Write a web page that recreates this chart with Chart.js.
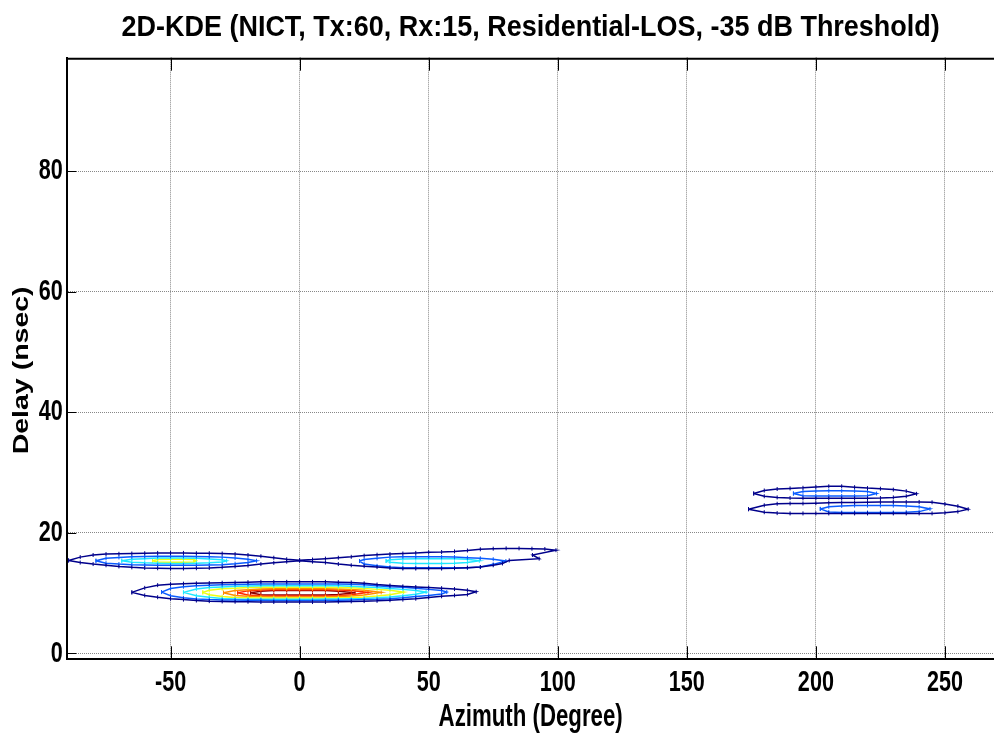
<!DOCTYPE html>
<html>
<head>
<meta charset="utf-8">
<title>2D-KDE contour</title>
<script src="https://cdn.jsdelivr.net/npm/chart.js@4.4.1/dist/chart.umd.min.js"></script>
<style>
  html, body { margin: 0; padding: 0; background: #fff; }
</style>
</head>
<body>
<canvas id="kde" width="994" height="736"></canvas>
<script>
// axis ticks
const xTicks = [-50, 0, 50, 100, 150, 200, 250];
const yTicks = [0, 20, 40, 60, 80];

// contour lines, [azimuth deg, delay ns]
// lower cluster around 10 ns
const lowNavy = [[-65,10.1],[-60,10.85],[-55,11.3],[-50,11.45],[-45,11.55],[-40,11.6],[-35,11.65],[-30,11.7],[-25,11.75],[-20,11.8],[-15,11.85],[-10,11.85],[-5,11.85],[0,11.85],[5,11.85],[10,11.85],[15,11.8],[20,11.75],[25,11.6],[30,11.4],[35,11.25],[40,11.1],[45,11.0],[50,10.9],[55,10.8],[60,10.65],[65,10.45],[68.4,10.2],
  [65,9.75],[60,9.6],[55,9.45],[50,9.25],[45,9.05],[40,8.9],[35,8.8],[30,8.7],[25,8.65],[20,8.6],[15,8.55],[10,8.5],[5,8.5],[0,8.5],[-5,8.5],[-10,8.5],[-15,8.5],[-20,8.55],[-25,8.55],[-30,8.6],[-35,8.65],[-40,8.75],[-45,8.9],[-50,9.05],[-55,9.3],[-60,9.6],[-65,10.1]];
const lowBlue = [[-53.5,10.15],[-50,10.75],[-45,11.05],[-40,11.2],[-35,11.3],[-30,11.35],[-25,11.4],[-20,11.45],[-15,11.5],[-10,11.5],[-5,11.5],[0,11.5],[5,11.5],[10,11.5],[15,11.5],[20,11.45],[25,11.35],[30,11.2],[35,11.05],[40,10.95],[45,10.8],[50,10.6],[55,10.4],[57,10.15],
  [55,9.85],[50,9.6],[45,9.4],[40,9.2],[35,9.05],[30,8.95],[25,8.9],[20,8.85],[15,8.8],[10,8.8],[5,8.75],[0,8.75],[-5,8.75],[-10,8.75],[-15,8.8],[-20,8.8],[-25,8.85],[-30,8.85],[-35,8.9],[-40,9.0],[-45,9.2],[-50,9.55],[-53.5,10.15]];
const lowCyan = [[-45,10.1],[-40,10.65],[-35,10.9],[-30,11.0],[-25,11.1],[-20,11.15],[-15,11.2],[-10,11.2],[-5,11.2],[0,11.2],[5,11.2],[10,11.2],[15,11.2],[20,11.1],[25,11.0],[30,10.9],[35,10.75],[40,10.6],[45,10.4],[49,10.15],
  [45,9.8],[40,9.55],[35,9.35],[30,9.2],[25,9.1],[20,9.05],[15,9.0],[10,9.0],[5,8.95],[0,8.95],[-5,8.95],[-10,8.95],[-15,8.95],[-20,8.95],[-25,9.0],[-30,9.1],[-35,9.3],[-40,9.55],[-45,10.1]];
const lowYellow = [[-37.5,10.1],[-35,10.45],[-30,10.7],[-25,10.8],[-20,10.9],[-15,10.95],[-10,10.95],[-5,10.95],[0,10.95],[5,10.95],[10,10.95],[15,10.9],[20,10.85],[25,10.75],[30,10.6],[35,10.45],[40.3,10.15],
  [35,9.7],[30,9.5],[25,9.35],[20,9.25],[15,9.2],[10,9.15],[5,9.15],[0,9.15],[-5,9.15],[-10,9.15],[-15,9.15],[-20,9.2],[-25,9.25],[-30,9.4],[-35,9.7],[-37.5,10.1]];
const lowOrange = [[-29.5,10.05],[-25,10.4],[-20,10.55],[-15,10.65],[-10,10.7],[-5,10.7],[0,10.7],[5,10.7],[10,10.7],[15,10.65],[20,10.6],[25,10.45],[31.6,10.1],
  [25,9.65],[20,9.5],[15,9.4],[10,9.35],[5,9.35],[0,9.35],[-5,9.35],[-10,9.35],[-15,9.4],[-20,9.45],[-25,9.6],[-29.5,10.05]];
const lowRed = [[-24,10.05],[-20,10.35],[-15,10.5],[-10,10.55],[-5,10.55],[0,10.55],[5,10.55],[10,10.55],[15,10.5],[20,10.4],[26.5,10.1],
  [20,9.7],[15,9.55],[10,9.5],[5,9.5],[0,9.5],[-5,9.5],[-10,9.5],[-15,9.55],[-20,9.65],[-24,10.05]];
const lowDark = [[-19,10.05],[-15,10.3],[-10,10.4],[-5,10.4],[0,10.4],[5,10.4],[10,10.4],[15,10.3],[21.5,10.05],
  [15,9.75],[10,9.65],[5,9.65],[0,9.65],[-5,9.65],[-10,9.65],[-15,9.7],[-19,10.05]];

// upper cluster around 15 ns (outer line joins both lobes)
const upNavy = [[-89.5,15.4],[-85,15.95],[-80,16.3],[-75,16.45],[-70,16.5],[-65,16.55],[-60,16.6],[-55,16.65],[-50,16.65],[-45,16.65],[-40,16.6],[-35,16.6],[-30,16.55],[-25,16.45],[-20,16.3],[-15,16.1],[-10,15.85],[-5,15.6],[0,15.45],[5,15.55],[10,15.7],[15,15.85],[20,16.0],[25,16.2],[30,16.35],[35,16.45],[40,16.55],[45,16.65],[50,16.75],[55,16.8],[60,16.9],[65,17.05],[70,17.25],[75,17.35],[80,17.4],[85,17.4],[90,17.35],[95,17.3],[99.3,17.1],
  [90.2,16.3],[92.8,15.7],[81.2,15.4],[78.6,14.9],[75,14.6],[70,14.3],[65,14.2],[60,14.1],[55,14.05],[50,14.05],[45,14.05],[40,14.05],[35,14.15],[30,14.3],[25,14.45],[20,14.6],[15,14.8],[10,15.05],[5,15.2],[0,15.35],[-5,15.2],[-10,15.0],[-15,14.8],[-20,14.55],[-25,14.4],[-30,14.25],[-35,14.15],[-40,14.1],[-45,14.05],[-50,14.05],[-55,14.1],[-60,14.15],[-65,14.25],[-70,14.4],[-75,14.6],[-80,14.8],[-85,15.05],[-89.5,15.4]];
const upLeftBlue = [[-78.9,15.35],[-75,15.75],[-70,15.9],[-65,16.0],[-60,16.05],[-55,16.1],[-50,16.1],[-45,16.1],[-40,16.05],[-35,16.0],[-30,15.95],[-25,15.8],[-20,15.6],[-16.7,15.35],
  [-20,15.05],[-25,14.85],[-30,14.7],[-35,14.65],[-40,14.6],[-45,14.6],[-50,14.6],[-55,14.6],[-60,14.65],[-65,14.7],[-70,14.8],[-75,14.95],[-78.9,15.35]];
const upLeftCyan = [[-68.9,15.35],[-65,15.6],[-60,15.7],[-55,15.8],[-50,15.8],[-45,15.8],[-40,15.75],[-35,15.65],[-30,15.5],[-28.3,15.35],
  [-30,15.15],[-35,15.0],[-40,14.95],[-45,14.9],[-50,14.9],[-55,14.95],[-60,15.0],[-65,15.1],[-68.9,15.35]];
const upLeftYellow = [[-57,15.35],[-55,15.55],[-50,15.6],[-45,15.6],[-41,15.55],[-40,15.35],[-41,15.15],[-45,15.1],[-50,15.1],[-55,15.15],[-57,15.35]];
const upRightBlue = [[23.2,15.3],[25,15.55],[30,15.75],[35,15.95],[40,16.0],[45,16.0],[50,16.0],[55,16.0],[60,15.95],[65,15.85],[70,15.75],[75,15.6],[79.9,15.3],
  [75,14.75],[70,14.3],[65,14.2],[60,14.2],[55,14.2],[50,14.2],[45,14.2],[40,14.2],[35,14.3],[30,14.5],[25,14.8],[23.2,15.3]];
const upRightCyan = [[33.5,15.3],[35,15.5],[40,15.65],[45,15.7],[50,15.7],[55,15.7],[60,15.7],[65,15.6],[69.6,15.35],
  [65,15.05],[60,14.95],[55,14.9],[50,14.9],[45,14.9],[40,14.95],[35,15.1],[33.5,15.3]];

// two small clusters around 200 deg
const rUpNavy = [[175.9,26.5],[180,27.0],[185,27.25],[190,27.35],[195,27.45],[200,27.6],[205,27.7],[210,27.7],[215,27.55],[220,27.4],[225,27.3],[230,27.15],[235,26.9],[239,26.45],
  [235,26.05],[230,25.85],[225,25.75],[220,25.7],[215,25.7],[210,25.7],[205,25.7],[200,25.7],[195,25.7],[190,25.75],[185,25.85],[180,26.05],[175.9,26.5]];
const rUpBlue = [[191.3,26.5],[195,26.85],[200,26.9],[205,26.95],[210,26.95],[215,26.9],[220,26.85],[223.5,26.5],
  [220,26.15],[215,26.1],[210,26.1],[205,26.1],[200,26.1],[195,26.15],[191.3,26.5]];
const rLowNavy = [[173.9,23.9],[180,24.55],[185,24.8],[190,24.85],[195,24.85],[200,24.9],[205,24.95],[210,25.0],[215,25.0],[220,25.05],[225,25.1],[230,25.1],[235,25.1],[240,25.1],[245,25.05],[250,24.75],[255,24.4],[259,23.9],
  [255,23.5],[250,23.3],[245,23.2],[240,23.2],[235,23.2],[230,23.2],[225,23.2],[220,23.2],[215,23.2],[210,23.2],[205,23.2],[200,23.2],[195,23.2],[190,23.2],[185,23.25],[180,23.4],[173.9,23.9]];
const rLowBlue = [[201.7,23.95],[205,24.3],[210,24.45],[215,24.5],[220,24.5],[225,24.5],[230,24.5],[235,24.45],[240,24.3],[244.2,23.95],
  [240,23.5],[235,23.4],[230,23.35],[225,23.35],[220,23.35],[215,23.35],[210,23.35],[205,23.45],[201.7,23.95]];

// jet colormap levels
const levelColor = {
  navy: '#00008b',
  blue: '#0a5cff',
  cyan: '#1fe8ff',
  yellow: '#eeff11',
  orange: '#ff8c00',
  red: '#ff2a00',
  dark: '#8f0000'
};

const contours = [
  [upNavy, 'navy'], [upLeftBlue, 'blue'], [upLeftCyan, 'cyan'], [upLeftYellow, 'yellow'],
  [upRightBlue, 'blue'], [upRightCyan, 'cyan'],
  [lowNavy, 'navy'], [lowBlue, 'blue'], [lowCyan, 'cyan'], [lowYellow, 'yellow'],
  [lowOrange, 'orange'], [lowRed, 'red'], [lowDark, 'dark'],
  [rUpNavy, 'navy'], [rUpBlue, 'blue'], [rLowNavy, 'navy'], [rLowBlue, 'blue']
];

// the exported figure has its lettering squashed sideways, amount depends on the font size used
const squeezeBySize = { '30': 0.72, '32': 0.695, '28.5': 0.8, '29': 0.93 };

const squeezeText = {
  id: 'squeezeText',
  beforeInit(chart) {
    const ctx = chart.ctx;
    const fill = ctx.fillText;
    ctx.fillText = function (text, x, y, maxWidth) {
      const m = ctx.font.match(/(\d+(?:\.\d+)?)px/);
      const k = m && squeezeBySize[m[1]] ? squeezeBySize[m[1]] : 1;
      const t = ctx.getTransform();
      const p = t.transformPoint(new DOMPoint(x, y));
      ctx.save();
      ctx.setTransform(new DOMMatrix().translate(p.x, p.y).scale(k, 1).translate(-p.x, -p.y).multiply(t));
      if (maxWidth === undefined) fill.call(ctx, text, x, y);
      else fill.call(ctx, text, x, y, maxWidth);
      ctx.restore();
    };
  }
};

// top frame line and the short inward tick marks
const frame = {
  id: 'frame',
  afterDraw(chart) {
    const { ctx, chartArea: a, scales: { x, y } } = chart;
    ctx.save();
    ctx.strokeStyle = '#000';
    ctx.lineWidth = 2;
    ctx.beginPath();
    ctx.moveTo(a.left, a.top + 1);
    ctx.lineTo(a.right, a.top + 1);
    ctx.stroke();
    ctx.lineWidth = 1;
    ctx.beginPath();
    xTicks.forEach(v => {
      const px = Math.round(x.getPixelForValue(v)) + 0.5;
      ctx.moveTo(px, a.bottom);
      ctx.lineTo(px, a.bottom - 13);
      ctx.moveTo(px, a.top);
      ctx.lineTo(px, a.top + 13);
    });
    yTicks.forEach(v => {
      const py = Math.round(y.getPixelForValue(v)) + 0.5;
      ctx.moveTo(a.left, py);
      ctx.lineTo(a.left + 9, py);
    });
    ctx.stroke();
    ctx.restore();
  }
};

Chart.defaults.font.family = "'Liberation Sans', Arial, sans-serif";
Chart.defaults.font.weight = 'bold';
Chart.defaults.color = '#000';

const ctx = document.getElementById('kde').getContext('2d');
new Chart(ctx, {
  type: 'scatter',
  data: {
    datasets: contours.map(([pts, lvl]) => ({
      data: pts,
      showLine: true,
      tension: 0,
      borderColor: levelColor[lvl],
      borderWidth: 1.5,
      pointStyle: 'line',
      pointRotation: 90,
      pointRadius: 2,
      pointBorderWidth: 1,
      pointBorderColor: levelColor[lvl],
      pointBackgroundColor: levelColor[lvl]
    }))
  },
  options: {
    responsive: false,
    animation: false,
    events: [],
    // the axes run right to the picture edge, keep no extra room round them
    layout: { padding: 0, autoPadding: false },
    plugins: {
      legend: { display: false },
      tooltip: { enabled: false },
      title: {
        display: true,
        text: '2D-KDE (NICT, Tx:60, Rx:15, Residential-LOS, -35 dB Threshold)',
        fullSize: false,
        font: { size: 29, weight: 'bold' },
        padding: { top: 10.6, bottom: 12.3 }
      }
    },
    scales: {
      x: {
        type: 'linear',
        min: -90,
        max: 269,
        afterBuildTicks: s => { s.ticks = xTicks.map(v => ({ value: v })); },
        afterFit: s => { s.height = 76.7; },
        ticks: { font: { size: 30 }, padding: 5, maxRotation: 0 },
        grid: { color: '#888', lineWidth: 1, drawTicks: false },
        border: { display: true, color: '#000', width: 2, dash: [1, 1] },
        title: { display: true, text: 'Azimuth (Degree)', font: { size: 32 }, padding: { top: 0, bottom: 0 } }
      },
      y: {
        type: 'linear',
        min: -1,
        max: 98.8,
        afterBuildTicks: s => { s.ticks = yTicks.map(v => ({ value: v })); },
        afterFit: s => { s.width = 67.3; },
        ticks: { font: { size: 30 }, padding: 4.6 },
        grid: { color: '#888', lineWidth: 1, drawTicks: false },
        border: { display: true, color: '#000', width: 2, dash: [1, 1] },
        // trailing spaces push the label down a little, MATLAB centres it lower than the axis middle
        title: { display: true, text: 'Delay (nsec)   ', font: { size: 28.5 }, padding: { top: 5, bottom: 0 } }
      }
    }
  },
  plugins: [squeezeText, frame]
});
</script>
</body>
</html>
